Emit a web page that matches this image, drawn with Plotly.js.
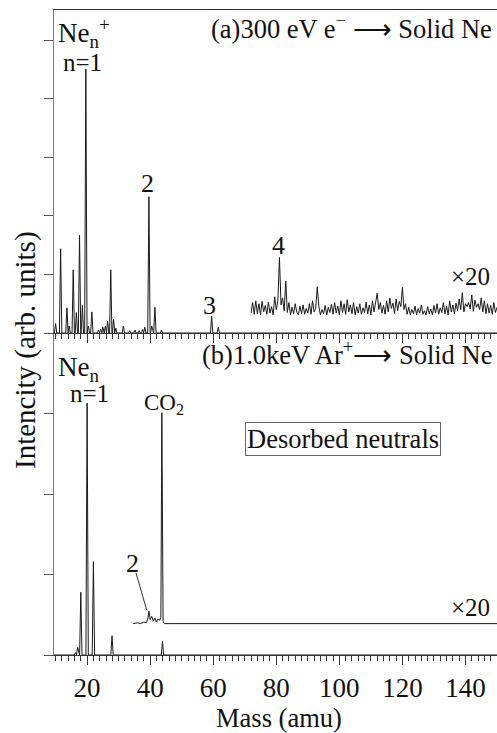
<!DOCTYPE html>
<html>
<head>
<meta charset="utf-8">
<script src="https://cdn.plot.ly/plotly-3.0.1.min.js"></script>
<style>html,body{margin:0;padding:0;background:#fff;}#chart{width:497px;height:733px;}</style>
</head>
<body>
<div id="chart"></div>
<script>
// ---------- DATA ----------
// (a) 300 eV electrons -> solid Ne, positive ions (x1 trace): peak masses (amu) and heights
var ionPeakMass   = [10.0, 11.6, 13.6, 14.3, 15.6, 16.6, 17.6, 18.5, 19.6, 20.4, 21.5, 23.6, 24.3, 25.0, 25.8, 26.5, 27.5, 28.4, 29.1, 31.5, 33.5, 35.2, 36.5, 37.6, 38.3, 39.6, 40.5, 41.5, 43.6, 59.5, 61.6];
var ionPeakHeight = [0.16, 1.44, 0.43, 0.12, 1.08, 0.35, 1.67, 0.47, 4.51, 0.12, 0.36, 0.05, 0.07, 0.10, 0.12, 0.20, 1.08, 0.24, 0.08, 0.12, 0.04, 0.05, 0.04, 0.06, 0.10, 2.33, 0.12, 0.44, 0.05, 0.29, 0.10];
// (a) x20 magnified trace, sampled every 0.5 amu from 72 amu
var ionX20Start = 72, ionX20Step = 0.5;
var ionX20 = [0.34,0.52,0.32,0.55,0.33,0.50,0.31,0.54,0.36,0.47,0.32,0.53,0.34,0.45,0.31,0.62,0.40,0.55,1.29,0.48,
              0.60,0.38,0.89,0.35,0.52,0.31,0.44,0.33,0.50,0.36,0.31,0.46,0.33,0.48,0.32,0.42,0.34,0.50,0.32,0.55,
              0.36,0.42,0.79,0.45,0.31,0.40,0.33,0.47,0.31,0.44,0.35,0.49,0.32,0.52,0.34,0.46,0.31,0.55,0.35,0.50,
              0.32,0.57,0.36,0.48,0.33,0.52,0.31,0.45,0.34,0.50,0.32,0.43,0.35,0.53,0.33,0.48,0.31,0.55,0.36,0.50,
              0.68,0.40,0.52,0.34,0.47,0.32,0.55,0.36,0.60,0.42,0.51,0.33,0.58,0.38,0.54,0.45,0.78,0.40,0.50,0.32,
              0.44,0.31,0.40,0.33,0.46,0.31,0.42,0.34,0.48,0.32,0.38,0.31,0.45,0.33,0.41,0.31,0.47,0.34,0.50,0.32,
              0.43,0.35,0.52,0.33,0.46,0.31,0.55,0.36,0.48,0.33,0.51,0.38,0.58,0.40,0.69,0.36,0.50,0.45,0.52,0.41,
              0.65,0.37,0.56,0.44,0.50,0.40,0.60,0.36,0.55,0.33,0.50,0.34,0.47,0.32,0.52,0.35,0.44];
// (b) 1.0 keV Ar+ -> solid Ne, desorbed neutrals (x1 trace)
var neuPeakMass   = [16.3, 17.0, 18.0, 20.0, 22.0, 27.9, 43.9];
var neuPeakHeight = [0.03, 0.095, 0.78, 3.13, 1.16, 0.24, 0.17];
// (b) x20 magnified trace
var neuX20Mass = [34.6, 36.0, 37.0, 38.0, 38.8, 39.3, 39.6, 40.0, 40.5, 41.0, 41.5, 42.0, 42.5, 43.0, 43.4, 43.7, 44.1, 44.5, 46.0, 150.0];
var neuX20Val  = [0.39, 0.40, 0.39, 0.41, 0.40, 0.46, 0.545, 0.44, 0.48, 0.42, 0.46, 0.41, 0.45, 0.43, 0.47, 3.01, 0.42, 0.39, 0.39, 0.39];

var xTickLabels = ['20','40','60','80','100','120','140'];
var xTickVals   = [20, 40, 60, 80, 100, 120, 140];

// ---------- BUILD ----------
var XMIN = 9.5, XMAX = 150, HW = 0.38;
function peakLine(mass, height) {
  var xs = [XMIN], ys = [0];
  for (var i = 0; i < mass.length; i++) {
    xs.push(mass[i] - HW, mass[i], mass[i] + HW);
    ys.push(0, height[i], 0);
  }
  xs.push(XMAX); ys.push(0);
  return {x: xs, y: ys};
}
var ion = peakLine(ionPeakMass, ionPeakHeight);
var neu = peakLine(neuPeakMass, neuPeakHeight);
var LC = '#1a1a1a';
var traces = [
  {x: ion.x, y: ion.y, xaxis: 'x2', yaxis: 'y2', mode: 'lines', line: {color: LC, width: 1}, hoverinfo: 'skip'},
  {y: ionX20, x0: ionX20Start, dx: ionX20Step, xaxis: 'x2', yaxis: 'y2', mode: 'lines', line: {color: LC, width: 1}, hoverinfo: 'skip'},
  {x: neu.x, y: neu.y, xaxis: 'x', yaxis: 'y', mode: 'lines', line: {color: LC, width: 1}, hoverinfo: 'skip'},
  {x: neuX20Mass, y: neuX20Val, xaxis: 'x', yaxis: 'y', mode: 'lines', line: {color: LC, width: 1}, hoverinfo: 'skip'}
];

var FF = 'Liberation Serif';
var TC = '#111';
function px(x) { return (x - 54) / 443; }
function py(y) { return (655 - y) / 645; }
function ann(text, x, y, size, xa, ya, extra) {
  var a = {text: text, xref: 'paper', yref: 'paper', x: px(x), y: py(y), xanchor: xa || 'center', yanchor: ya || 'middle',
           showarrow: false, font: {family: FF, size: size, color: TC}};
  if (extra) for (var k in extra) a[k] = extra[k];
  return a;
}
var SPLIT = 322 / 645;
var xCommon = {
  range: [XMIN, XMAX], tickvals: xTickVals, ticktext: xTickLabels, ticks: 'outside', ticklen: 9, tickwidth: 1,
  tickcolor: '#333', showline: true, linecolor: '#333', linewidth: 1, showgrid: false, zeroline: false,
  minor: {dtick: 2, tick0: 0, ticks: 'outside', ticklen: 5, tickcolor: '#333', tickwidth: 1, showgrid: false}
};
var layout = {
  width: 497, height: 733,
  margin: {l: 54, r: 0, t: 10, b: 78},
  paper_bgcolor: '#fff', plot_bgcolor: '#fff',
  showlegend: false,
  font: {family: FF, color: TC},
  xaxis: Object.assign({}, xCommon, {anchor: 'y', domain: [0, 1], tickfont: {family: FF, size: 27, color: TC}}),
  xaxis2: Object.assign({}, xCommon, {anchor: 'y2', domain: [0, 1], matches: 'x', showticklabels: false, mirror: true}),
  yaxis: {domain: [0, SPLIT], range: [0, 4], tickvals: [0, 1, 2, 3], showticklabels: false, ticks: 'outside', ticklen: 9,
          tickcolor: '#555', showline: true, linecolor: '#777', showgrid: false, zeroline: false},
  yaxis2: {domain: [SPLIT, 1], range: [0, 5.52], tickvals: [0, 1, 2, 3, 4, 5], showticklabels: false, ticks: 'outside', ticklen: 9,
           tickcolor: '#555', showline: true, linecolor: '#777', showgrid: false, zeroline: false},
  annotations: [
    ann('Intencity (arb. units)', 25, 350, 29, 'center', 'middle', {textangle: -90}),
    ann('Mass (amu)', 278.5, 718, 26.5),
    ann('Ne<sub>n</sub><sup>+</sup>', 56, 12, 27, 'left', 'top'),
    ann('(a)300 eV e<sup>\u2212</sup> \u27f6 Solid Ne', 494, 27, 26.5, 'right', 'middle'),
    ann('n=1', 82.5, 62, 25),
    ann('2', 147.5, 183, 26),
    ann('3', 209.5, 305, 26),
    ann('4', 278.3, 245, 26),
    ann('\u00d720', 470.5, 276, 25),
    ann('Ne<sub>n</sub>', 56, 350, 27, 'left', 'top'),
    ann('(b)1.0keV Ar<sup>+</sup>\u27f6 Solid Ne', 494, 353, 26.5, 'right', 'middle'),
    ann('n=1', 89.5, 393, 25),
    ann('CO<sub>2</sub>', 164, 404, 23),
    ann('Desorbed neutrals', 342.5, 438.7, 26.5, 'center', 'middle', {bordercolor: '#666', borderwidth: 1, borderpad: 1}),
    ann('2', 132.5, 563, 26),
    ann('\u00d720', 470, 607.5, 25)
  ],
  shapes: [
    {type: 'line', xref: 'paper', yref: 'paper', x0: px(136), y0: py(573), x1: px(146.7), y1: py(610), line: {color: '#333', width: 1}}
  ]
};
Plotly.newPlot('chart', traces, layout, {staticPlot: true, displayModeBar: false});
</script>
</body>
</html>
